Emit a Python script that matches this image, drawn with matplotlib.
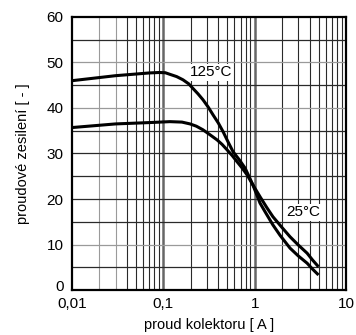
import matplotlib
matplotlib.use("Agg")
import matplotlib.pyplot as plt
from matplotlib.transforms import ScaledTranslation

# ---- data ----
x_125 = [0.01, 0.03, 0.07, 0.09, 0.105, 0.118, 0.14, 0.164, 0.19, 0.211, 0.24, 0.272, 0.31, 0.35, 0.4,
         0.451, 0.51, 0.58, 0.68, 0.785, 0.87, 0.96, 1.145, 1.3, 1.585, 1.9, 2.44, 3.0, 3.75, 4.3, 5.0]
y_125 = [46.0, 47.1, 47.7, 47.8, 47.75, 47.4, 46.9, 46.2, 45.3, 44.3, 43.1, 41.8, 40.2, 38.5, 36.7,
         34.8, 32.6, 30.4, 28.6, 26.8, 24.9, 23.0, 19.1, 17.2, 14.3, 12.0, 9.2, 7.5, 5.9, 4.6, 3.3]

x_25 = [0.01, 0.03, 0.0715, 0.118, 0.16, 0.196, 0.23, 0.272, 0.32, 0.387, 0.44, 0.499, 0.57, 0.641,
        0.73, 0.826, 0.95, 1.145, 1.35, 1.585, 2.0, 2.44, 3.0, 3.75, 4.3, 5.0]
y_25 = [35.7, 36.5, 36.8, 37.0, 36.9, 36.5, 36.0, 35.2, 34.2, 33.0, 32.0, 30.8, 29.5, 28.2,
        26.8, 25.3, 23.2, 20.5, 18.2, 16.1, 13.7, 11.7, 9.9, 8.1, 6.6, 5.1]

x_ticks = [0.01, 0.1, 1, 10]
x_ticklabels = ["0,01", "0,1", "1", "10"]
y_ticks = [0, 10, 20, 30, 40, 50, 60]
y_ticklabels = ["0", "10", "20", "30", "40", "50", "60"]

label_125 = "125°C"
label_25 = "25°C"
xlabel = "proud kolektoru [ A ]"
ylabel = "proudové zesilení [ - ]"

plt.rcParams['font.family'] = ['Liberation Sans', 'DejaVu Sans']

fig = plt.figure(figsize=(3.56, 3.35), dpi=100)
ax = fig.add_axes([0.2022, 0.1343, 0.7697, 0.8150])
ax.set_xscale('log')
ax.set_xlim(0.01, 10)
ax.set_ylim(0, 60)

# grid
for dec in [0.01, 0.1, 1]:
    for m in range(2, 10):
        v = dec * m
        col = '#9a9a9a' if (dec == 0.01 and m in (2, 3)) else '#2a2a2a'
        ax.axvline(v, color=col, lw=0.8, zorder=1)
for v in [0.1, 1]:
    ax.axvline(v, color='#666666', lw=1.8, zorder=1)
for h in range(5, 60, 5):
    col = '#9a9a9a' if h in (10, 40, 50) else '#2a2a2a'
    ax.axhline(h, color=col, lw=0.9, zorder=1)

ax.plot(x_125, y_125, color='black', lw=2.2, zorder=3, solid_capstyle='butt', solid_joinstyle='round')
ax.plot(x_25, y_25, color='black', lw=2.2, zorder=3, solid_capstyle='butt', solid_joinstyle='round')

bb = dict(facecolor='white', edgecolor='none', pad=1.0)
ax.text(0.33, 47.8, label_125, fontsize=11, ha='center', va='center', bbox=bb, zorder=4)
ax.text(3.39, 17.1, label_25, fontsize=11, ha='center', va='center', bbox=bb, zorder=4)

ax.set_xticks(x_ticks)
ax.set_xticklabels(x_ticklabels, fontsize=11)
ax.set_yticks(y_ticks)
ax.set_yticklabels(y_ticklabels, fontsize=11)
ax.minorticks_off()
ax.tick_params(axis='x', length=0, pad=5)
ax.tick_params(axis='y', length=0, pad=6)
# lift the "0" label a little, as in the reference
zero = ax.get_yticklabels()[0]
zero.set_transform(zero.get_transform() + ScaledTranslation(0, 3 / 72, fig.dpi_scale_trans))

for s in ax.spines.values():
    s.set_linewidth(1.6)
    s.set_color('black')

ax.set_xlabel(xlabel, fontsize=10.5, labelpad=5)
ax.set_ylabel(ylabel, fontsize=10.5, labelpad=12)

fig.savefig("out.png", dpi=100)
